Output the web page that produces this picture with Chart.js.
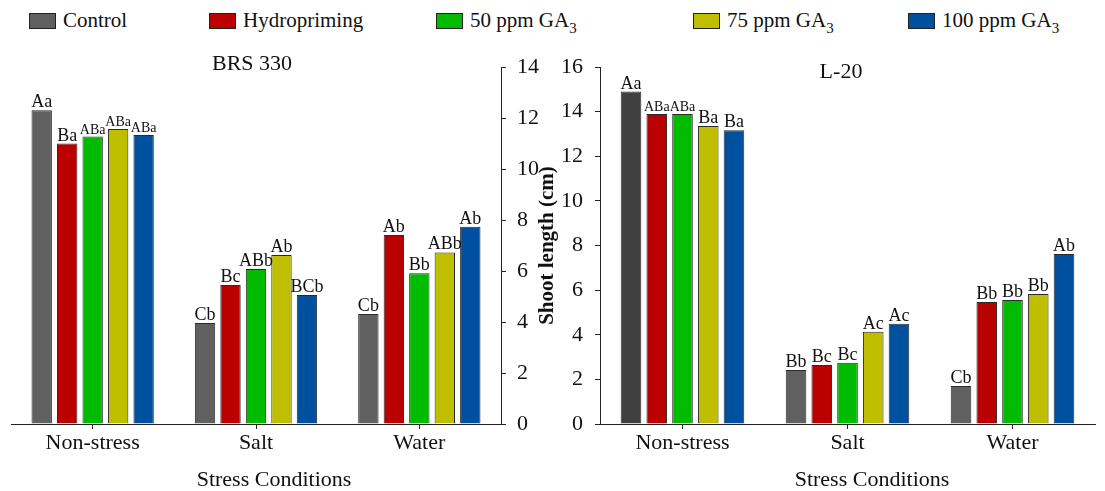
<!DOCTYPE html>
<html lang="en">
<head>
<meta charset="UTF-8">
<title>Shoot length</title>
<script src="https://cdn.jsdelivr.net/npm/chart.js@4.4.0/dist/chart.umd.min.js"></script>
<style>
  body { margin: 0; background: #fff; }
  #wrap { position: relative; width: 1105px; height: 491px; overflow: hidden; color: #111; }
  .lg { position: absolute; top: 4px; font-family: 'Liberation Serif', serif; font-size: 21px; line-height: 32px; white-space: nowrap; }
  .lg i { position: absolute; left: 0; top: 9px; width: 25px; height: 14px; border: 1px solid #222; }
  .lg span { margin-left: 34px; }
  .lg sub { font-size: 15px; vertical-align: -6px; line-height: 0; }
  canvas { position: absolute; top: 0; }
</style>
</head>
<body>
<div id="wrap">
  <div id="legend"></div>
  <canvas id="left" width="545" height="491" style="left:0"></canvas>
  <canvas id="right" width="575" height="491" style="left:530px"></canvas>
</div>

<script>
const FONT = "'Liberation Serif', serif";

// categories and series
const conditions = ['Non-stress', 'Salt', 'Water'];
const treatments = ['Control', 'Hydropriming', '50 ppm GA<sub>3</sub>', '75 ppm GA<sub>3</sub>', '100 ppm GA<sub>3</sub>'];
const treatmentNames = ['Control', 'Hydropriming', '50 ppm GA3', '75 ppm GA3', '100 ppm GA3'];
const colors = ['#606060', '#bb0000', '#00bb00', '#bfbf00', '#0050a0'];

// BRS 330 (left)
const brsControl = [12.3, 3.96, 4.31];
const brsHydro   = [11.0, 5.45, 7.41];
const brs50      = [11.27, 6.08, 5.91];
const brs75      = [11.57, 6.63, 6.73];
const brs100     = [11.33, 5.06, 7.74];
const brsLetters = [
  ['Aa', 'Cb', 'Cb'],
  ['Ba', 'Bc', 'Ab'],
  ['ABa', 'ABb', 'Bb'],
  ['ABa', 'Ab', 'ABb'],
  ['ABa', 'BCb', 'Ab']
];

// L-20 (right)
const lControl = [14.9, 2.42, 1.70];
const lHydro   = [13.89, 2.64, 5.47];
const l50      = [13.89, 2.75, 5.56];
const l75      = [13.36, 4.14, 5.83];
const l100     = [13.17, 4.49, 7.62];
const lLetters = [
  ['Aa', 'Bb', 'Cb'],
  ['ABa', 'Bc', 'Bb'],
  ['ABa', 'Bc', 'Bb'],
  ['Ba', 'Ac', 'Bb'],
  ['Ba', 'Ac', 'Ab']
];

const brsTicks = [0, 2, 4, 6, 8, 10, 12, 14];
const lTicks = [0, 2, 4, 6, 8, 10, 12, 14, 16];

// legend
const legendLeft = [29, 209, 436, 693, 908];
const legend = document.getElementById('legend');
treatments.forEach((t, i) => {
  const d = document.createElement('div');
  d.className = 'lg';
  d.style.left = legendLeft[i] + 'px';
  d.innerHTML = '<i style="background:' + colors[i] + '"></i><span>' + t + '</span>';
  legend.appendChild(d);
});

Chart.defaults.font.family = FONT;
Chart.defaults.color = '#111';

// letters above bars
const barLetters = {
  id: 'barLetters',
  afterDatasetsDraw(chart, args, opts) {
    const ctx = chart.ctx;
    ctx.save();
    ctx.fillStyle = '#111';
    ctx.textAlign = 'center';
    ctx.textBaseline = 'alphabetic';
    chart.data.datasets.forEach((ds, di) => {
      chart.getDatasetMeta(di).data.forEach((bar, i) => {
        const txt = opts.letters[di][i];
        const size = txt === 'ABa' ? 14 : 18;
        ctx.font = size + 'px ' + FONT;
        ctx.fillText(txt, bar.x, bar.y - 3);
      });
    });
    ctx.restore();
  }
};

// panel title and x-axis title
const panelText = {
  id: 'panelText',
  afterDraw(chart, args, opts) {
    const ctx = chart.ctx;
    ctx.save();
    ctx.fillStyle = '#111';
    ctx.textAlign = 'center';
    ctx.textBaseline = 'middle';
    opts.items.forEach(it => {
      ctx.font = '22px ' + FONT;
      ctx.fillText(it.text, it.x, it.y);
    });
    ctx.restore();
  }
};

function makeDatasets(series, ctrlColors) {
  return series.map((vals, i) => ({
    label: treatmentNames[i],
    data: vals,
    backgroundColor: i === 0 && ctrlColors ? ctrlColors : colors[i],
    borderColor: '#2a2a2a',
    borderWidth: 1,
    categoryPercentage: 0.78,
    barPercentage: 0.8
  }));
}

function xScale() {
  return {
    offset: true,
    grid: { offset: false, drawOnChartArea: false, tickLength: 5, color: '#222' },
    border: { display: true, color: '#222' },
    ticks: { font: { size: 22, family: FONT }, padding: 1, color: '#111' },
    afterFit: s => { s.height = 67; }
  };
}

new Chart(document.getElementById('left'), {
  type: 'bar',
  data: { labels: conditions, datasets: makeDatasets([brsControl, brsHydro, brs50, brs75, brs100]) },
  options: {
    responsive: false,
    animation: false,
    layout: { padding: { left: 11, top: 67, right: 0, bottom: 0 } },
    plugins: {
      legend: { display: false },
      tooltip: { enabled: false },
      barLetters: { letters: brsLetters },
      panelText: { items: [
        { text: 'BRS 330', x: 252, y: 64 },
        { text: 'Stress Conditions', x: 274, y: 480 }
      ] }
    },
    scales: {
      x: xScale(),
      y: {
        position: 'right',
        min: 0, max: 14,
        afterBuildTicks: s => { s.ticks = brsTicks.map(v => ({ value: v })); },
        grid: { drawOnChartArea: false, tickLength: 5, color: '#222' },
        border: { display: true, color: '#222' },
        ticks: { font: { size: 22, family: FONT }, padding: 11, color: '#111' },
        afterFit: s => { s.width = 44; }
      }
    }
  },
  plugins: [barLetters, panelText]
});

new Chart(document.getElementById('right'), {
  type: 'bar',
  data: { labels: conditions, datasets: makeDatasets([lControl, lHydro, l50, l75, l100], ['#404040', '#606060', '#606060']) },
  options: {
    responsive: false,
    animation: false,
    layout: { padding: { left: 0, top: 67, right: 10, bottom: 0 } },
    plugins: {
      legend: { display: false },
      tooltip: { enabled: false },
      barLetters: { letters: lLetters },
      panelText: { items: [
        { text: 'L-20', x: 311, y: 72 },
        { text: 'Stress Conditions', x: 342, y: 480 }
      ] }
    },
    scales: {
      x: xScale(),
      y: {
        position: 'left',
        min: 0, max: 16,
        afterBuildTicks: s => { s.ticks = lTicks.map(v => ({ value: v })); },
        grid: { drawOnChartArea: false, tickLength: 5, color: '#222' },
        border: { display: true, color: '#222' },
        ticks: { font: { size: 22, family: FONT }, padding: 12, color: '#111' },
        title: { display: true, text: 'Shoot length (cm)', font: { size: 21, weight: 'bold', family: FONT }, padding: { top: 5, bottom: 0 }, color: '#111' },
        afterFit: s => { s.width = 70; }
      }
    }
  },
  plugins: [barLetters, panelText]
});
</script>
</body>
</html>
